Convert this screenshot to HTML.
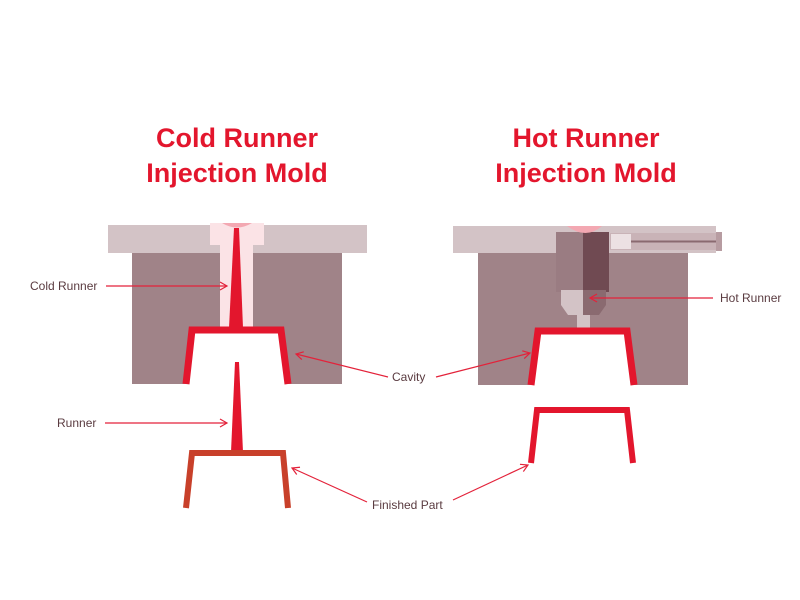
<!DOCTYPE html>
<html><head><style>
html,body{margin:0;padding:0;background:#fff;width:800px;height:600px;overflow:hidden}
svg{display:block}
.t{font-family:"Liberation Sans",sans-serif;font-size:27px;font-weight:bold;fill:#e3162d}
.l{font-family:"Liberation Sans",sans-serif;font-size:12px;fill:#5a3b40}
</style></head><body>
<svg width="800" height="600" viewBox="0 0 800 600" xmlns="http://www.w3.org/2000/svg">
<defs><marker id="a" markerWidth="10" markerHeight="10" refX="8" refY="5" orient="auto" markerUnits="userSpaceOnUse"><path d="M1,1 L8,5 L1,9" fill="none" stroke="#e3223a" stroke-width="1.2"/></marker></defs>
<text class="t" x="237" y="147" text-anchor="middle">Cold Runner</text>
<text class="t" x="237" y="182" text-anchor="middle">Injection Mold</text>
<text class="t" x="586" y="147" text-anchor="middle">Hot Runner</text>
<text class="t" x="586" y="182" text-anchor="middle">Injection Mold</text>

<!-- left mold -->
<rect x="108" y="225" width="259" height="28" fill="#d3c3c6"/>
<rect x="132" y="253" width="210" height="131" fill="#a08388"/>
<path d="M210,223 H264 V245 H253 V328 H220 V245 H210 Z" fill="#fbe3e6"/>
<path d="M222,223 Q237,232 252,223 Z" fill="#f3a8b2"/>
<path d="M234,228 L239,228 L243,328 L229,328 Z" fill="#e3162d"/>
<path d="M186,384 L192,330 L281,330 L288,384" fill="#fff" stroke="#e3162d" stroke-width="7"/>

<!-- left runner + part -->
<path d="M235,362 L239,362 L243,452 L231,452 Z" fill="#e3162d"/>
<path d="M186,508 L192,453 L283,453 L288,508" fill="none" stroke="#c8402a" stroke-width="6"/>

<!-- right mold -->
<rect x="453" y="226" width="263" height="27" fill="#d3c3c6"/>
<rect x="478" y="253" width="210" height="132" fill="#a08388"/>
<rect x="610" y="233" width="110" height="17" fill="#c9b3b7"/>
<rect x="611" y="234" width="20" height="15" fill="#ece1e3"/>
<line x1="631" y1="241.5" x2="716" y2="241.5" stroke="#8a6a70" stroke-width="2"/>
<rect x="716" y="232" width="6" height="19" fill="#b79ca1"/>
<rect x="556" y="232" width="27" height="60" fill="#9a7c82"/>
<rect x="583" y="232" width="26" height="60" fill="#704a52"/>
<path d="M567,226 Q586,240 602,226 Z" fill="#f3a8b2"/>
<path d="M561,290 H583 V315 H568 L561,305 Z" fill="#d3c3c6"/>
<path d="M583,290 H606 V305 L599,315 H583 Z" fill="#8a6a70"/>
<rect x="577" y="315" width="13" height="14" fill="#d3c3c6"/>
<path d="M531,385 L538,331 L627,331 L634,385" fill="#fff" stroke="#e3162d" stroke-width="7"/>

<!-- right part -->
<path d="M531,463 L537,410 L627,410 L633,463" fill="none" stroke="#e3162d" stroke-width="6"/>

<!-- labels -->
<text class="l" x="30" y="290">Cold Runner</text>
<line x1="106" y1="286" x2="227" y2="286" stroke="#e3223a" stroke-width="1.2" marker-end="url(#a)"/>
<text class="l" x="57" y="427">Runner</text>
<line x1="105" y1="423" x2="227" y2="423" stroke="#e3223a" stroke-width="1.2" marker-end="url(#a)"/>
<text class="l" x="392" y="381">Cavity</text>
<line x1="388" y1="377" x2="296" y2="354" stroke="#e3223a" stroke-width="1.2" marker-end="url(#a)"/>
<line x1="436" y1="377" x2="530" y2="353" stroke="#e3223a" stroke-width="1.2" marker-end="url(#a)"/>
<text class="l" x="372" y="509">Finished Part</text>
<line x1="367" y1="502" x2="292" y2="468" stroke="#e3223a" stroke-width="1.2" marker-end="url(#a)"/>
<line x1="453" y1="500" x2="528" y2="465" stroke="#e3223a" stroke-width="1.2" marker-end="url(#a)"/>
<text class="l" x="720" y="302">Hot Runner</text>
<line x1="713" y1="298" x2="590" y2="298" stroke="#e3223a" stroke-width="1.2" marker-end="url(#a)"/>
</svg>
</body></html>
